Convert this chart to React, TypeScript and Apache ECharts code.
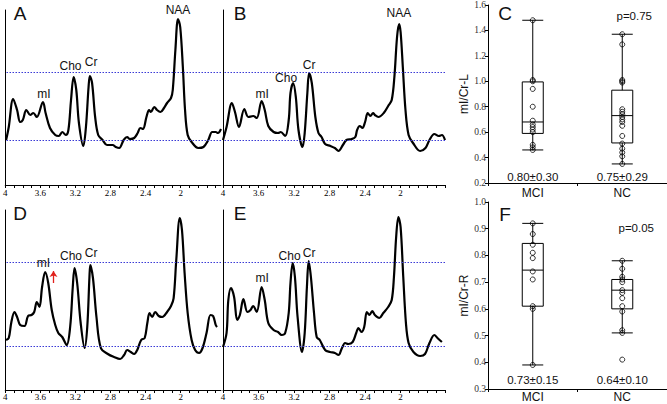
import React, { useEffect, useRef } from 'react';
import * as echarts from 'echarts';

// ---------- Spectra (ppm, intensity in arbitrary units) ----------
const A_PPM = [3.99,3.96,3.91,3.865,3.83,3.80,3.76,3.715,3.68,3.64,3.57,3.54,3.49,3.43,3.39,3.35,3.31,3.28,3.25,3.22,3.19,3.16,3.11,3.08,3.05,3.035,3.01,2.975,2.94,2.89,2.84,2.775,2.74,2.70,2.65,2.61,2.58,2.53,2.49,2.46,2.43,2.39,2.36,2.34,2.30,2.27,2.23,2.19,2.155,2.11,2.09,2.06,2.03,2.005,1.975,1.95,1.92,1.875,1.80,1.74,1.685,1.64,1.60,1.575,1.54];
const A_INT = [45,58,86,75,63,65,75,70,72,68,83,72,57,50,49,53,50,55,85,108,95,62,39,58,98,109,102,68,50,45,40,40,38,37,45,48,46,47,52,57,56,68,75,73,78,75,73,77,82,87,95,135,166,158,118,75,50,43,37,38,45,53,53,52,56];

const B_PPM = [4.0,3.96,3.90,3.865,3.82,3.76,3.715,3.66,3.62,3.565,3.53,3.49,3.43,3.38,3.35,3.30,3.26,3.24,3.21,3.18,3.15,3.105,3.08,3.05,3.03,3.0,2.96,2.925,2.89,2.85,2.79,2.74,2.70,2.65,2.61,2.55,2.51,2.49,2.46,2.43,2.40,2.37,2.34,2.31,2.29,2.25,2.19,2.14,2.10,2.07,2.04,2.017,2.0,1.975,1.945,1.91,1.86,1.78,1.72,1.675,1.62,1.57,1.535,1.50];
const B_INT = [45,58,82,73,58,76,68,69,67,84,75,59,53,52,53,49,65,92,102,88,55,38,52,92,112,102,68,52,48,41,39,37,34,40,45,46,48,55,59,57,63,72,69,72,70,68,72,79,85,108,148,161,153,118,75,50,42,34,37,45,51,49,50,45];

const D_PPM = [3.99,3.96,3.93,3.895,3.865,3.83,3.78,3.74,3.70,3.67,3.64,3.61,3.58,3.545,3.51,3.47,3.43,3.395,3.35,3.30,3.26,3.23,3.21,3.18,3.14,3.095,3.065,3.04,3.03,3.0,2.96,2.91,2.83,2.76,2.69,2.645,2.61,2.57,2.53,2.495,2.45,2.41,2.38,2.355,2.325,2.29,2.25,2.21,2.155,2.11,2.08,2.05,2.01,1.985,1.955,1.92,1.875,1.835,1.79,1.75,1.705,1.66,1.63,1.60,1.585];
const D_INT = [50,52,68,78,73,65,64,74,75,78,88,83,103,118,107,80,65,57,53,45,63,103,122,107,67,42,63,113,125,112,73,42,36,33,31,35,40,38,36,40,50,52,67,77,73,78,74,73,78,84,92,130,172,160,117,77,50,40,37,42,57,75,74,65,63];

const E_PPM = [4.0,3.96,3.94,3.91,3.875,3.84,3.81,3.77,3.725,3.69,3.66,3.62,3.565,3.53,3.49,3.43,3.38,3.34,3.30,3.26,3.24,3.215,3.19,3.16,3.11,3.08,3.055,3.035,3.01,2.975,2.945,2.91,2.85,2.795,2.74,2.70,2.66,2.625,2.59,2.54,2.50,2.475,2.44,2.41,2.38,2.35,2.32,2.29,2.24,2.195,2.14,2.10,2.075,2.05,2.025,2.0,1.97,1.94,1.91,1.855,1.78,1.725,1.675,1.62,1.585,1.535];
const E_INT = [43,57,90,102,93,70,75,91,78,80,84,78,103,90,67,60,58,55,57,77,107,127,113,73,38,57,103,129,113,77,53,50,40,38,37,35,42,47,46,48,57,62,58,63,78,75,79,75,72,77,83,90,113,153,173,163,113,67,47,38,34,36,47,55,52,48];

// reference (dotted) levels per row
const ROW1_LEVELS = [112.5, 44.5];
const ROW2_LEVELS = [127.5, 43.5];

// peak label positions [name, ppm, intensity]
const PEAKS_A: [string, number, number][] = [['NAA', 2.03, 175], ['Cho', 3.256, 119], ['Cr', 3.02, 123], ['mI', 3.56, 91]];
const PEAKS_B: [string, number, number][] = [['NAA', 2.02, 172], ['Cho', 3.29, 107], ['Cr', 3.03, 120], ['mI', 3.56, 91]];
const PEAKS_D: [string, number, number][] = [['NAA', 2.02, 182], ['Cho', 3.25, 134], ['Cr', 3.02, 137], ['mI', 3.565, 127]];
const PEAKS_E: [string, number, number][] = [['NAA', 2.035, 183], ['Cho', 3.25, 134], ['Cr', 3.03, 137], ['mI', 3.56, 112]];
const ARROW_D = [[3.45, 107], [3.45, 119]];

const PPM_TICKS_AD = [4.0,3.9,3.8,3.7,3.6,3.5,3.4,3.3,3.2,3.1,3.0,2.9,2.8,2.7,2.6,2.5,2.4,2.3,2.2,2.1,2.0,1.9,1.8,1.7,1.6];
const PPM_TICKS_BE = [4.0,3.9,3.8,3.7,3.6,3.5,3.4,3.3,3.2,3.1,3.0,2.9,2.8,2.7,2.6,2.5,2.4,2.3,2.2,2.1,2.0,1.9,1.8,1.7,1.6,1.5];
const PPM_LABELS = [4, 3.6, 3.2, 2.8, 2.4, 2];

// ---------- Box plots ----------
const GROUPS = ['MCI', 'NC'];
const C_MCI = [1.48,1.01,1.0,0.94,0.80,0.69,0.66,0.64,0.62,0.60,0.50,0.48,0.46];
const C_NC = [1.37,1.29,1.01,1.0,0.99,0.78,0.76,0.74,0.72,0.70,0.68,0.65,0.57,0.51,0.47,0.44,0.41,0.35];
const C_BOX_MCI = [0.46, 0.59, 0.68, 0.995, 1.48];
const C_BOX_NC = [0.35, 0.515, 0.73, 0.93, 1.37];
const F_MCI = [0.92,0.88,0.84,0.81,0.79,0.74,0.71,0.61,0.60,0.39];
const F_NC = [0.78,0.75,0.72,0.71,0.70,0.67,0.66,0.64,0.61,0.59,0.52,0.51,0.41];
const F_BOX_MCI = [0.39, 0.61, 0.745, 0.845, 0.92];
const F_BOX_NC = [0.51, 0.60, 0.67, 0.71, 0.78];
const C_MEANS = ['0.80±0.30', '0.75±0.29'];
const F_MEANS = ['0.73±0.15', '0.64±0.10'];
const C_P = 'p=0.75';
const F_P = 'p=0.05';

const SERIF = '"Liberation Serif", "Times New Roman", serif';
const SANS = '"Liberation Sans", Arial, sans-serif';
const DOT_COLOR = '#3a3ad6';

function zip(a: number[], b: number[]) {
  return a.map((x, i) => [x, b[i]]);
}

function specX(gridIndex: number, min: number, ticks: number[], labelMargin: number) {
  return {
    type: 'value', gridIndex, inverse: true, min, max: 4,
    axisLine: { show: true, onZero: false, lineStyle: { color: '#000', width: 1 } },
    axisTick: { show: true, customValues: ticks, length: 3, lineStyle: { color: '#000', width: 1 } },
    axisLabel: {
      show: true, customValues: PPM_LABELS, margin: labelMargin,
      formatter: (v: number) => String(Number(v.toFixed(1))),
      fontFamily: SERIF, fontSize: 9, color: '#000',
    },
    splitLine: { show: false },
  };
}

function specY(gridIndex: number, max: number) {
  return {
    type: 'value', gridIndex, min: 0, max,
    axisLine: { show: true, onZero: false, lineStyle: { color: '#000', width: 1 } },
    axisTick: { show: false }, axisLabel: { show: false }, splitLine: { show: false },
  };
}

// reference level lines drawn as their own line series (one series per level)
function levelSeries(idx: number, v: number) {
  return {
    type: 'line', xAxisIndex: idx, yAxisIndex: idx, data: [], silent: true,
    markLine: {
      silent: true, symbol: ['none', 'none'], label: { show: false },
      lineStyle: { color: DOT_COLOR, type: [1.5, 1.5], width: 1, opacity: 1 },
      emphasis: { disabled: true },
      data: [{ yAxis: v }],
    },
  };
}

function specSeries(idx: number, ppm: number[], inten: number[], peaks: [string, number, number][], arrow?: number[][]) {
  const s: any = {
    type: 'line', xAxisIndex: idx, yAxisIndex: idx,
    data: zip(ppm, inten), smooth: 0.35, symbol: 'none',
    lineStyle: { color: '#000', width: 2.2 },
    clip: false, z: 3,
    markPoint: {
      silent: true, symbol: 'circle', symbolSize: 1,
      itemStyle: { color: 'rgba(0,0,0,0)' },
      label: { show: true, position: 'inside', formatter: '{b}', color: '#111', fontFamily: SANS, fontSize: 12 },
      data: peaks.map(([name, x, y]) => ({ name, coord: [x, y] })),
    },
  };
  if (arrow) {
    s.markLine = {
      silent: true, symbol: ['none', 'arrow'], symbolSize: 6, label: { show: false },
      lineStyle: { color: '#e0201b', type: 'solid', width: 1.3 },
      data: [[{ coord: arrow[0] }, { coord: arrow[1] }]],
    };
  }
  return s;
}

function boxX(gridIndex: number, margin: number) {
  return {
    type: 'category', gridIndex, data: GROUPS,
    axisLine: { show: true, lineStyle: { color: '#000', width: 1 } },
    axisTick: { show: true, length: 3, lineStyle: { color: '#000' } },
    axisLabel: { fontFamily: SANS, fontSize: 12, color: '#111', margin },
    splitLine: { show: false },
  };
}

function boxY(gridIndex: number, min: number, max: number, interval: number, name: string) {
  return {
    type: 'value', gridIndex, min, max, interval, name,
    nameLocation: 'middle', nameGap: 17,
    nameTextStyle: { fontFamily: SANS, fontSize: 12, color: '#111' },
    axisLine: { show: true, onZero: false, lineStyle: { color: '#000', width: 1 } },
    axisTick: { show: true, length: 3, lineStyle: { color: '#000' } },
    axisLabel: { fontFamily: SERIF, fontSize: 9.5, color: '#333', margin: 2, formatter: (v: number) => v.toFixed(1) },
    splitLine: { show: false },
  };
}

function boxSeries(idx: number, mciBox: number[], ncBox: number[]) {
  return {
    type: 'boxplot', xAxisIndex: idx, yAxisIndex: idx,
    data: [mciBox, ncBox], boxWidth: [21, 21],
    itemStyle: { color: 'rgba(0,0,0,0)', borderColor: '#000', borderWidth: 1 },
  };
}

function dotSeries(idx: number, mci: number[], nc: number[], means: string[], meanY: number, p: string, pY: number, pOff: number) {
  return {
    type: 'scatter', xAxisIndex: idx, yAxisIndex: idx,
    data: [...mci.map((v) => [0, v]), ...nc.map((v) => [1, v])],
    symbol: 'circle', symbolSize: 5,
    itemStyle: { color: 'rgba(0,0,0,0)', borderColor: '#000', borderWidth: 1 },
    markPoint: {
      silent: true, symbol: 'circle', symbolSize: 1,
      itemStyle: { color: 'rgba(0,0,0,0)' },
      label: { show: true, position: 'inside', formatter: '{b}', color: '#111', fontFamily: SANS, fontSize: 11.5 },
      data: [
        { name: means[0], coord: [0, meanY] },
        { name: means[1], coord: [1, meanY] },
        { name: p, coord: [1, pY], label: { offset: [pOff, 0] } },
      ],
    },
  };
}

function letter(text: string, x: number, y: number) {
  return {
    type: 'text', x, y,
    style: { text, fill: '#111', font: `19px ${SANS}`, align: 'center', verticalAlign: 'middle' },
  };
}

export default function App() {
  const ref = useRef<HTMLDivElement>(null);
  useEffect(() => {
    if (!ref.current) return;
    const chart = echarts.init(ref.current, null, { renderer: 'svg' });
    const option: any = {
      animation: false,
      backgroundColor: '#fff',
      grid: [
        { left: 3, top: 10, width: 218, height: 175 },
        { left: 223, top: 10, width: 222, height: 175 },
        { left: 3, top: 210, width: 218, height: 180 },
        { left: 223, top: 210, width: 222, height: 180 },
        { left: 488, top: 3, width: 180, height: 180 },
        { left: 488, top: 202, width: 180, height: 187 },
      ],
      xAxis: [
        specX(0, 1.54, PPM_TICKS_AD, 3),
        specX(1, 1.5, PPM_TICKS_BE, 3),
        specX(2, 1.54, PPM_TICKS_AD, 2),
        specX(3, 1.5, PPM_TICKS_BE, 2),
        boxX(4, 4),
        boxX(5, 2),
      ],
      yAxis: [
        specY(0, 175),
        specY(1, 175),
        specY(2, 180),
        specY(3, 180),
        boxY(4, 0.2, 1.6, 0.2, 'mI/Cr-L'),
        boxY(5, 0.3, 1.0, 0.1, 'mI/Cr-R'),
      ],
      series: [
        ...ROW1_LEVELS.map((v) => levelSeries(0, v)),
        ...ROW1_LEVELS.map((v) => levelSeries(1, v)),
        ...ROW2_LEVELS.map((v) => levelSeries(2, v)),
        ...ROW2_LEVELS.map((v) => levelSeries(3, v)),
        specSeries(0, A_PPM, A_INT, PEAKS_A),
        specSeries(1, B_PPM, B_INT, PEAKS_B),
        specSeries(2, D_PPM, D_INT, PEAKS_D, ARROW_D),
        specSeries(3, E_PPM, E_INT, PEAKS_E),
        boxSeries(4, C_BOX_MCI, C_BOX_NC),
        dotSeries(4, C_MCI, C_NC, C_MEANS, 0.247, C_P, 1.514, 12),
        boxSeries(5, F_BOX_MCI, F_BOX_NC),
        dotSeries(5, F_MCI, F_NC, F_MEANS, 0.334, F_P, 0.902, 14),
      ],
      graphic: [
        letter('A', 20, 13),
        letter('B', 240, 13),
        letter('D', 20, 213),
        letter('E', 240, 213),
        letter('C', 505, 13),
        letter('F', 505, 214),
      ],
    };
    chart.setOption(option);
    return () => chart.dispose();
  }, []);
  return (
    <div
      ref={ref}
      style={{ position: 'fixed', left: 0, top: 0, width: 667, height: 404, background: '#fff' }}
    />
  );
}
